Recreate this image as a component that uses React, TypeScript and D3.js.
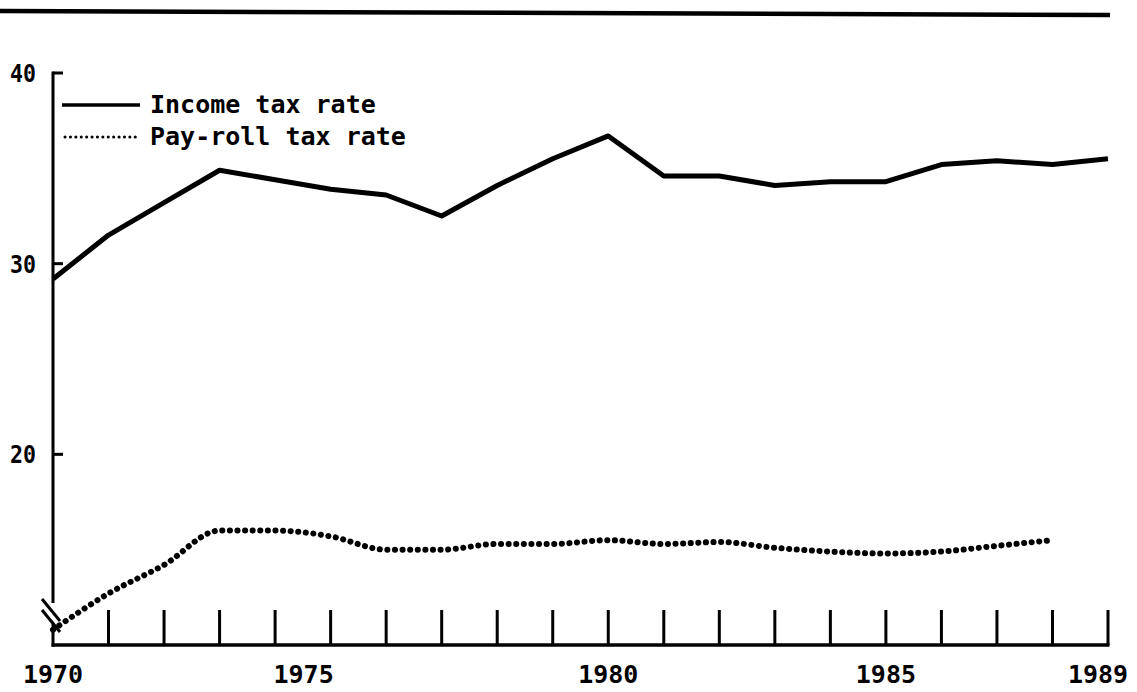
import React from "react";
import * as d3 from "d3";

const years = [1970,1971,1972,1973,1974,1975,1976,1977,1978,1979,1980,1981,1982,1983,1984,1985,1986,1987,1988,1989];
const incomeTax = [29.2,31.5,33.2,34.9,34.4,33.9,33.6,32.5,34.1,35.5,36.7,34.6,34.6,34.1,34.3,34.3,35.2,35.4,35.2,35.5];
const payrollYears = [1970,1971,1972,1973,1974,1975,1976,1977,1978,1979,1980,1981,1982,1983,1984,1985,1986,1987,1988];
const payrollTax = [10.8,12.7,14.2,16.0,16.0,15.7,15.0,15.0,15.3,15.3,15.5,15.3,15.4,15.1,14.9,14.8,14.9,15.2,15.5];
const yTicks = [20, 30, 40];
const xLabels = [1970, 1975, 1980, 1985, 1989];
const xLabelShift: Record<number, number> = { 1970: 0, 1975: -27, 1980: 0, 1985: 0, 1989: -10 };
const legendItems = ["Income tax rate", "Pay-roll tax rate"];

const W = 1137, H = 692;
const FONT = "'DejaVu Sans Mono', 'Liberation Mono', monospace";

export default function App() {
  const x = d3.scaleLinear().domain([1970, 1989]).range([53, 1108]);
  const y = d3.scaleLinear().domain([10, 40]).range([645, 73]);
  const incomeLine = d3.line<number>().x((_, i) => x(years[i])).y(d => y(d)).curve(d3.curveLinear);
  const payLine = d3.line<number>().x((_, i) => x(payrollYears[i])).y(d => y(d)).curve(d3.curveMonotoneX);
  const x0 = x(1970), x1 = x(1989), yb = y(10), yt = y(40);

  return (
    <svg width={W} height={H} style={{ position: "absolute", left: 0, top: 0, background: "#fff" }}>
      {/* top rule */}
      <line x1={0} y1={11} x2={1110} y2={15} stroke="#000" strokeWidth={4.5} />

      {/* y axis with break */}
      <line x1={x0} y1={yt - 1.5} x2={x0} y2={603} stroke="#000" strokeWidth={3} />
      <line x1={x0} y1={624} x2={x0} y2={yb + 1.5} stroke="#000" strokeWidth={3} />
      <line x1={42} y1={599} x2={60} y2={621} stroke="#000" strokeWidth={3} />
      <line x1={42} y1={610} x2={60} y2={632} stroke="#000" strokeWidth={3} />

      {/* x axis */}
      <line x1={x0 - 1.5} y1={yb} x2={x1 + 1.5} y2={yb} stroke="#000" strokeWidth={3.5} />
      {years.slice(1).map(yr => (
        <line key={yr} x1={x(yr)} y1={yb} x2={x(yr)} y2={yb - 35} stroke="#000" strokeWidth={3} />
      ))}

      {/* y ticks */}
      {yTicks.map(t => (
        <g key={t}>
          <line x1={x0} y1={y(t)} x2={x0 + 10} y2={y(t)} stroke="#000" strokeWidth={3} />
          <text x={36} y={y(t) + 9} textAnchor="end" fontFamily={FONT} fontWeight="bold" fontSize={25} textLength={26} lengthAdjust="spacingAndGlyphs" fill="#000">{t}</text>
        </g>
      ))}

      {/* x labels */}
      {xLabels.map(l => (
        <text key={l} x={x(l) + xLabelShift[l]} y={683} textAnchor="middle" fontFamily={FONT} fontWeight="bold" fontSize={25} fill="#000">{l}</text>
      ))}

      {/* series */}
      <path d={incomeLine(incomeTax) || ""} fill="none" stroke="#000" strokeWidth={5} strokeLinejoin="round" />
      <path d={payLine(payrollTax) || ""} fill="none" stroke="#000" strokeWidth={6} strokeLinecap="round" strokeDasharray="0.1 7.5" />

      {/* legend */}
      <line x1={62} y1={105} x2={140} y2={105} stroke="#000" strokeWidth={3.5} />
      <text x={150} y={113} fontFamily={FONT} fontSize={25} fontWeight="bold" fill="#000">{legendItems[0]}</text>
      <line x1={65} y1={137} x2={140} y2={137} stroke="#000" strokeWidth={3} strokeLinecap="round" strokeDasharray="0.1 5.3" />
      <text x={150} y={145} fontFamily={FONT} fontSize={25} fontWeight="bold" fill="#000">{legendItems[1]}</text>
    </svg>
  );
}
